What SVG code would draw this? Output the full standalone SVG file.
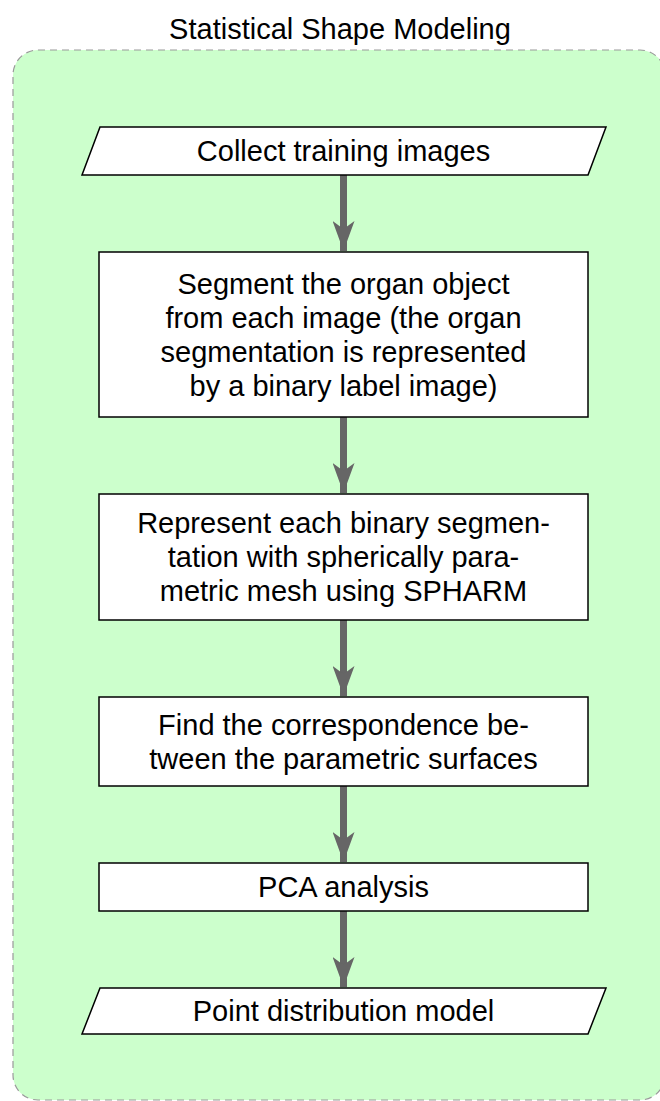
<svg xmlns="http://www.w3.org/2000/svg" width="660" height="1101" viewBox="0 0 660 1101">
  <style>
    .lbl { font-family: "Liberation Sans", Arial, sans-serif; font-size: 29px; fill: #000; text-anchor: middle; }
    .box { fill: #fff; stroke: #000; stroke-width: 1.5; }
    .flow { stroke: #666; stroke-width: 7; fill: none; }
  </style>
  <defs>
    <marker id="stealth" viewBox="0 0 30 22" refX="30" refY="11" markerUnits="userSpaceOnUse" markerWidth="30" markerHeight="22" orient="auto">
      <path d="M0,0 L30,11 L0,22 L8,11 Z" fill="#666"/>
    </marker>
  </defs>

  <!-- Title -->
  <text class="lbl" x="340" y="39">Statistical Shape Modeling</text>

  <!-- Container -->
  <rect x="13" y="50" width="652" height="1050" rx="25" ry="25" fill="#ccffcc" stroke="#999" stroke-width="1.2" stroke-dasharray="7 5"/>

  <!-- Connectors -->
  <g id="connectors">
    <line class="flow" x1="343.5" y1="175" x2="343.5" y2="251" marker-end="url(#stealth)"/>
    <line class="flow" x1="343.5" y1="417" x2="343.5" y2="493" marker-end="url(#stealth)"/>
    <line class="flow" x1="343.5" y1="620" x2="343.5" y2="696" marker-end="url(#stealth)"/>
    <line class="flow" x1="343.5" y1="786" x2="343.5" y2="862" marker-end="url(#stealth)"/>
    <line class="flow" x1="343.5" y1="911" x2="343.5" y2="987" marker-end="url(#stealth)"/>
  </g>

  <g id="collect">
    <polygon class="box" points="100,127 606,127 588,175 82,175"/>
    <text class="lbl" x="343.5" y="161">Collect training images</text>
  </g>

  <g id="segment">
    <rect class="box" x="99" y="252" width="489" height="165"/>
    <text class="lbl" x="343.5" y="294">Segment the organ object</text>
    <text class="lbl" x="343.5" y="328">from each image (the organ</text>
    <text class="lbl" x="343.5" y="362">segmentation is represented</text>
    <text class="lbl" x="343.5" y="396">by a binary label image)</text>
  </g>

  <g id="represent">
    <rect class="box" x="99" y="494" width="489" height="126"/>
    <text class="lbl" x="343.5" y="533">Represent each binary segmen-</text>
    <text class="lbl" x="343.5" y="567">tation with spherically para-</text>
    <text class="lbl" x="343.5" y="601">metric mesh using SPHARM</text>
  </g>

  <g id="find">
    <rect class="box" x="99" y="697" width="489" height="89"/>
    <text class="lbl" x="343.5" y="735">Find the correspondence be-</text>
    <text class="lbl" x="343.5" y="769">tween the parametric surfaces</text>
  </g>

  <g id="pca">
    <rect class="box" x="99" y="863" width="489" height="48"/>
    <text class="lbl" x="343.5" y="897">PCA analysis</text>
  </g>

  <g id="pdm">
    <polygon class="box" points="100,988 606,988 588,1034 82,1034"/>
    <text class="lbl" x="343.5" y="1021">Point distribution model</text>
  </g>
</svg>
